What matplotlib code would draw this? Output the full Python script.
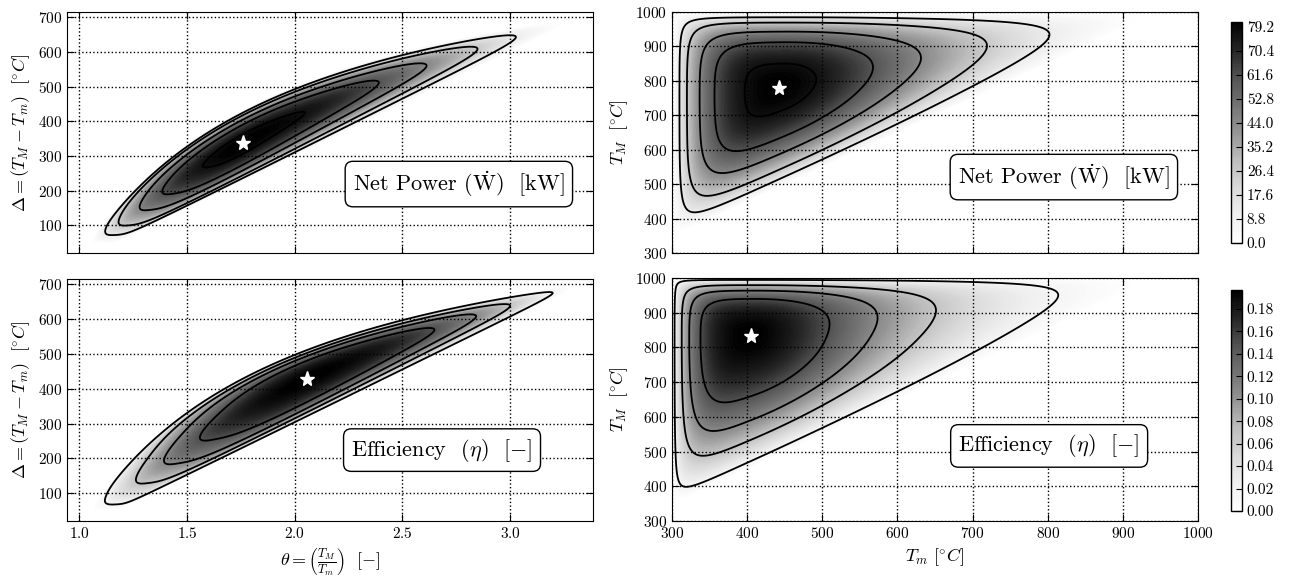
import numpy as np
import matplotlib
matplotlib.use("Agg")
from matplotlib import pyplot as plt

plt.rcParams['font.family'] = 'serif'
plt.rcParams['font.serif'] = ['cmr10', 'DejaVu Serif']
plt.rcParams['mathtext.fontset'] = 'cm'
plt.rcParams['axes.formatter.use_mathtext'] = True
plt.rcParams['axes.unicode_minus'] = False
plt.rcParams['xtick.direction'] = 'in'
plt.rcParams['ytick.direction'] = 'in'
plt.rcParams['xtick.top'] = True
plt.rcParams['ytick.right'] = True

#%% data
T_low, T_high = 300.0, 1000.0      # bounds of the temperature map [C]
d_min = 50.0                        # smallest T_M - T_m that was evaluated

# optimum points (T_m, T_M) and peak values
power_star = (443.0, 780.0)
power_max = 81.0
eff_star = (405.0, 834.0)
eff_max = 0.197

# where each black contour crosses a horizontal line on the right panels
power_cross_TM = 800.0
power_cross_Tm = [310, 320, 337, 357, 398]
eff_cross_TM = 834.0
eff_cross_Tm = [303.5, 313, 323, 338]

# fitted surface shape: (weight, exponent) below / above the optimum for
# the distances to the T_m=300 edge, the T_M=1000 edge and the diagonal
power_shape = [(1.0, 0.5, 1.0, 0.72), (1.0, 0.5, 1.0, 0.3), (0.6, 1.5, 0.4, 0.5)]
power_sharp = 1.6
eff_shape = [(1.0, 0.4, 1.0, 0.62), (1.0, 0.4, 1.0, 0.3), (0.6, 1.5, 0.4, 0.5)]
eff_sharp = 1.6
corner_p = 1.3   # >1 gives squarer corners where two edges meet

power_ticks = [0.0, 8.8, 17.6, 26.4, 35.2, 44.0, 52.8, 61.6, 70.4, 79.2]
eff_ticks = [0.00, 0.02, 0.04, 0.06, 0.08, 0.10, 0.12, 0.14, 0.16, 0.18]


def prof(x, p):
    x = np.maximum(x, 1e-9)
    m_lo, k_lo, m_hi, k_hi = p
    lo = m_lo * (np.log(x) + (1.0 - x**k_lo) / k_lo)
    hi = m_hi * (np.log(x) + (1.0 - x**k_hi) / k_hi)
    return np.minimum(np.where(x < 1.0, lo, hi), 0.0)


def surface(Tm, TM, star, zmax, shape, sharp):
    a0 = star[0] - T_low
    b0 = T_high - star[1]
    c0 = star[1] - star[0] - d_min
    a = (Tm - T_low) / a0
    b = (T_high - TM) / b0
    c = (TM - Tm - d_min) / c0
    pen = sum((-prof(x, p))**corner_p for x, p in zip((a, b, c), shape))
    return zmax * np.exp(-sharp * pen**(1.0 / corner_p))


Tm1 = np.linspace(T_low, T_high, 700)
TM1 = np.linspace(T_low, T_high, 700)
Tm, TM = np.meshgrid(Tm1, TM1)
valid = (TM - Tm) > d_min
theta = TM / Tm
delta = TM - Tm

W = np.ma.masked_where(~valid, surface(Tm, TM, power_star, power_max, power_shape, power_sharp))
E = np.ma.masked_where(~valid, surface(Tm, TM, eff_star, eff_max, eff_shape, eff_sharp))

W_lines = sorted(surface(np.array(power_cross_Tm, float), power_cross_TM, power_star,
                         power_max, power_shape, power_sharp))
E_lines = sorted(surface(np.array(eff_cross_Tm, float), eff_cross_TM, eff_star,
                         eff_max, eff_shape, eff_sharp))

#%%
fig = plt.figure(figsize=(12.9, 5.78), dpi=100)
ax_wl = fig.add_axes([0.0519, 0.5623, 0.4078, 0.4170])
ax_el = fig.add_axes([0.0519, 0.0986, 0.4078, 0.4187])
ax_wr = fig.add_axes([0.5209, 0.5623, 0.4078, 0.4170])
ax_er = fig.add_axes([0.5209, 0.0986, 0.4078, 0.4204])
cax_w = fig.add_axes([0.9543, 0.5796, 0.0085, 0.3824])
cax_e = fig.add_axes([0.9543, 0.1159, 0.0085, 0.3824])

cmap = 'Greys'
box = dict(boxstyle='round,pad=0.35', fc='white', ec='black', lw=1)

panels = [
    (ax_wl, theta, delta, W, power_max, W_lines, power_star, 'left'),
    (ax_wr, Tm, TM, W, power_max, W_lines, power_star, 'right'),
    (ax_el, theta, delta, E, eff_max, E_lines, eff_star, 'left'),
    (ax_er, Tm, TM, E, eff_max, E_lines, eff_star, 'right'),
]
cfs = []
for ax, X, Y, Z, zmax, lines, star, side in panels:
    cf = ax.contourf(X, Y, Z, levels=np.linspace(0, zmax, 100), cmap=cmap)
    ax.contour(X, Y, Z, levels=lines, colors='k', linewidths=1.3)
    if side == 'left':
        sx, sy = star[1] / star[0], star[1] - star[0]
        ax.set_xlim(0.943, 3.385)
        ax.set_ylim(20, 715)
        ax.set_xticks([1.0, 1.5, 2.0, 2.5, 3.0])
        ax.set_yticks([100, 200, 300, 400, 500, 600, 700])
        ax.set_ylabel(r'$\Delta = (T_M - T_m)\ \ [^{\circ}C]$', fontsize=13)
    else:
        sx, sy = star
        ax.set_xlim(300, 1000)
        ax.set_ylim(300, 1000)
        ax.set_xticks(range(300, 1001, 100))
        ax.set_yticks(range(300, 1001, 100))
        ax.set_ylabel(r'$T_M\ \ [^{\circ}C]$', fontsize=13)
    ax.plot(sx, sy, '*', color='white', mec='white', ms=11)
    ax.grid(True, linestyle=':', color='k', linewidth=1)
    ax.tick_params(labelsize=11, length=5)
    cfs.append(cf)

for ax in (ax_wl, ax_wr):
    plt.setp(ax.get_xticklabels(), visible=False)

ax_el.set_xlabel(r'$\theta = \left(\frac{T_M}{T_m}\right)\ \ [-]$', fontsize=13)
ax_er.set_xlabel(r'$T_m\ [^{\circ}C]$', fontsize=13)

txt_w = r'Net Power $(\dot{\mathrm{W}})$  [kW]'
txt_e = r'Efficiency  $(\eta)$  $[-]$'
ax_wl.text(0.745, 0.286, txt_w, transform=ax_wl.transAxes, ha='center', va='center', fontsize=16, bbox=box)
ax_wr.text(0.745, 0.315, txt_w, transform=ax_wr.transAxes, ha='center', va='center', fontsize=16, bbox=box)
ax_el.text(0.713, 0.293, txt_e, transform=ax_el.transAxes, ha='center', va='center', fontsize=16, bbox=box)
ax_er.text(0.717, 0.309, txt_e, transform=ax_er.transAxes, ha='center', va='center', fontsize=16, bbox=box)

cb_w = fig.colorbar(cfs[1], cax=cax_w, ticks=power_ticks, format='%.1f')
cb_e = fig.colorbar(cfs[3], cax=cax_e, ticks=eff_ticks, format='%.2f')
for cb in (cb_w, cb_e):
    cb.ax.tick_params(labelsize=11, direction='in', length=4)
    cb.outline.set_linewidth(1)

plt.savefig('out.png', dpi=100)
